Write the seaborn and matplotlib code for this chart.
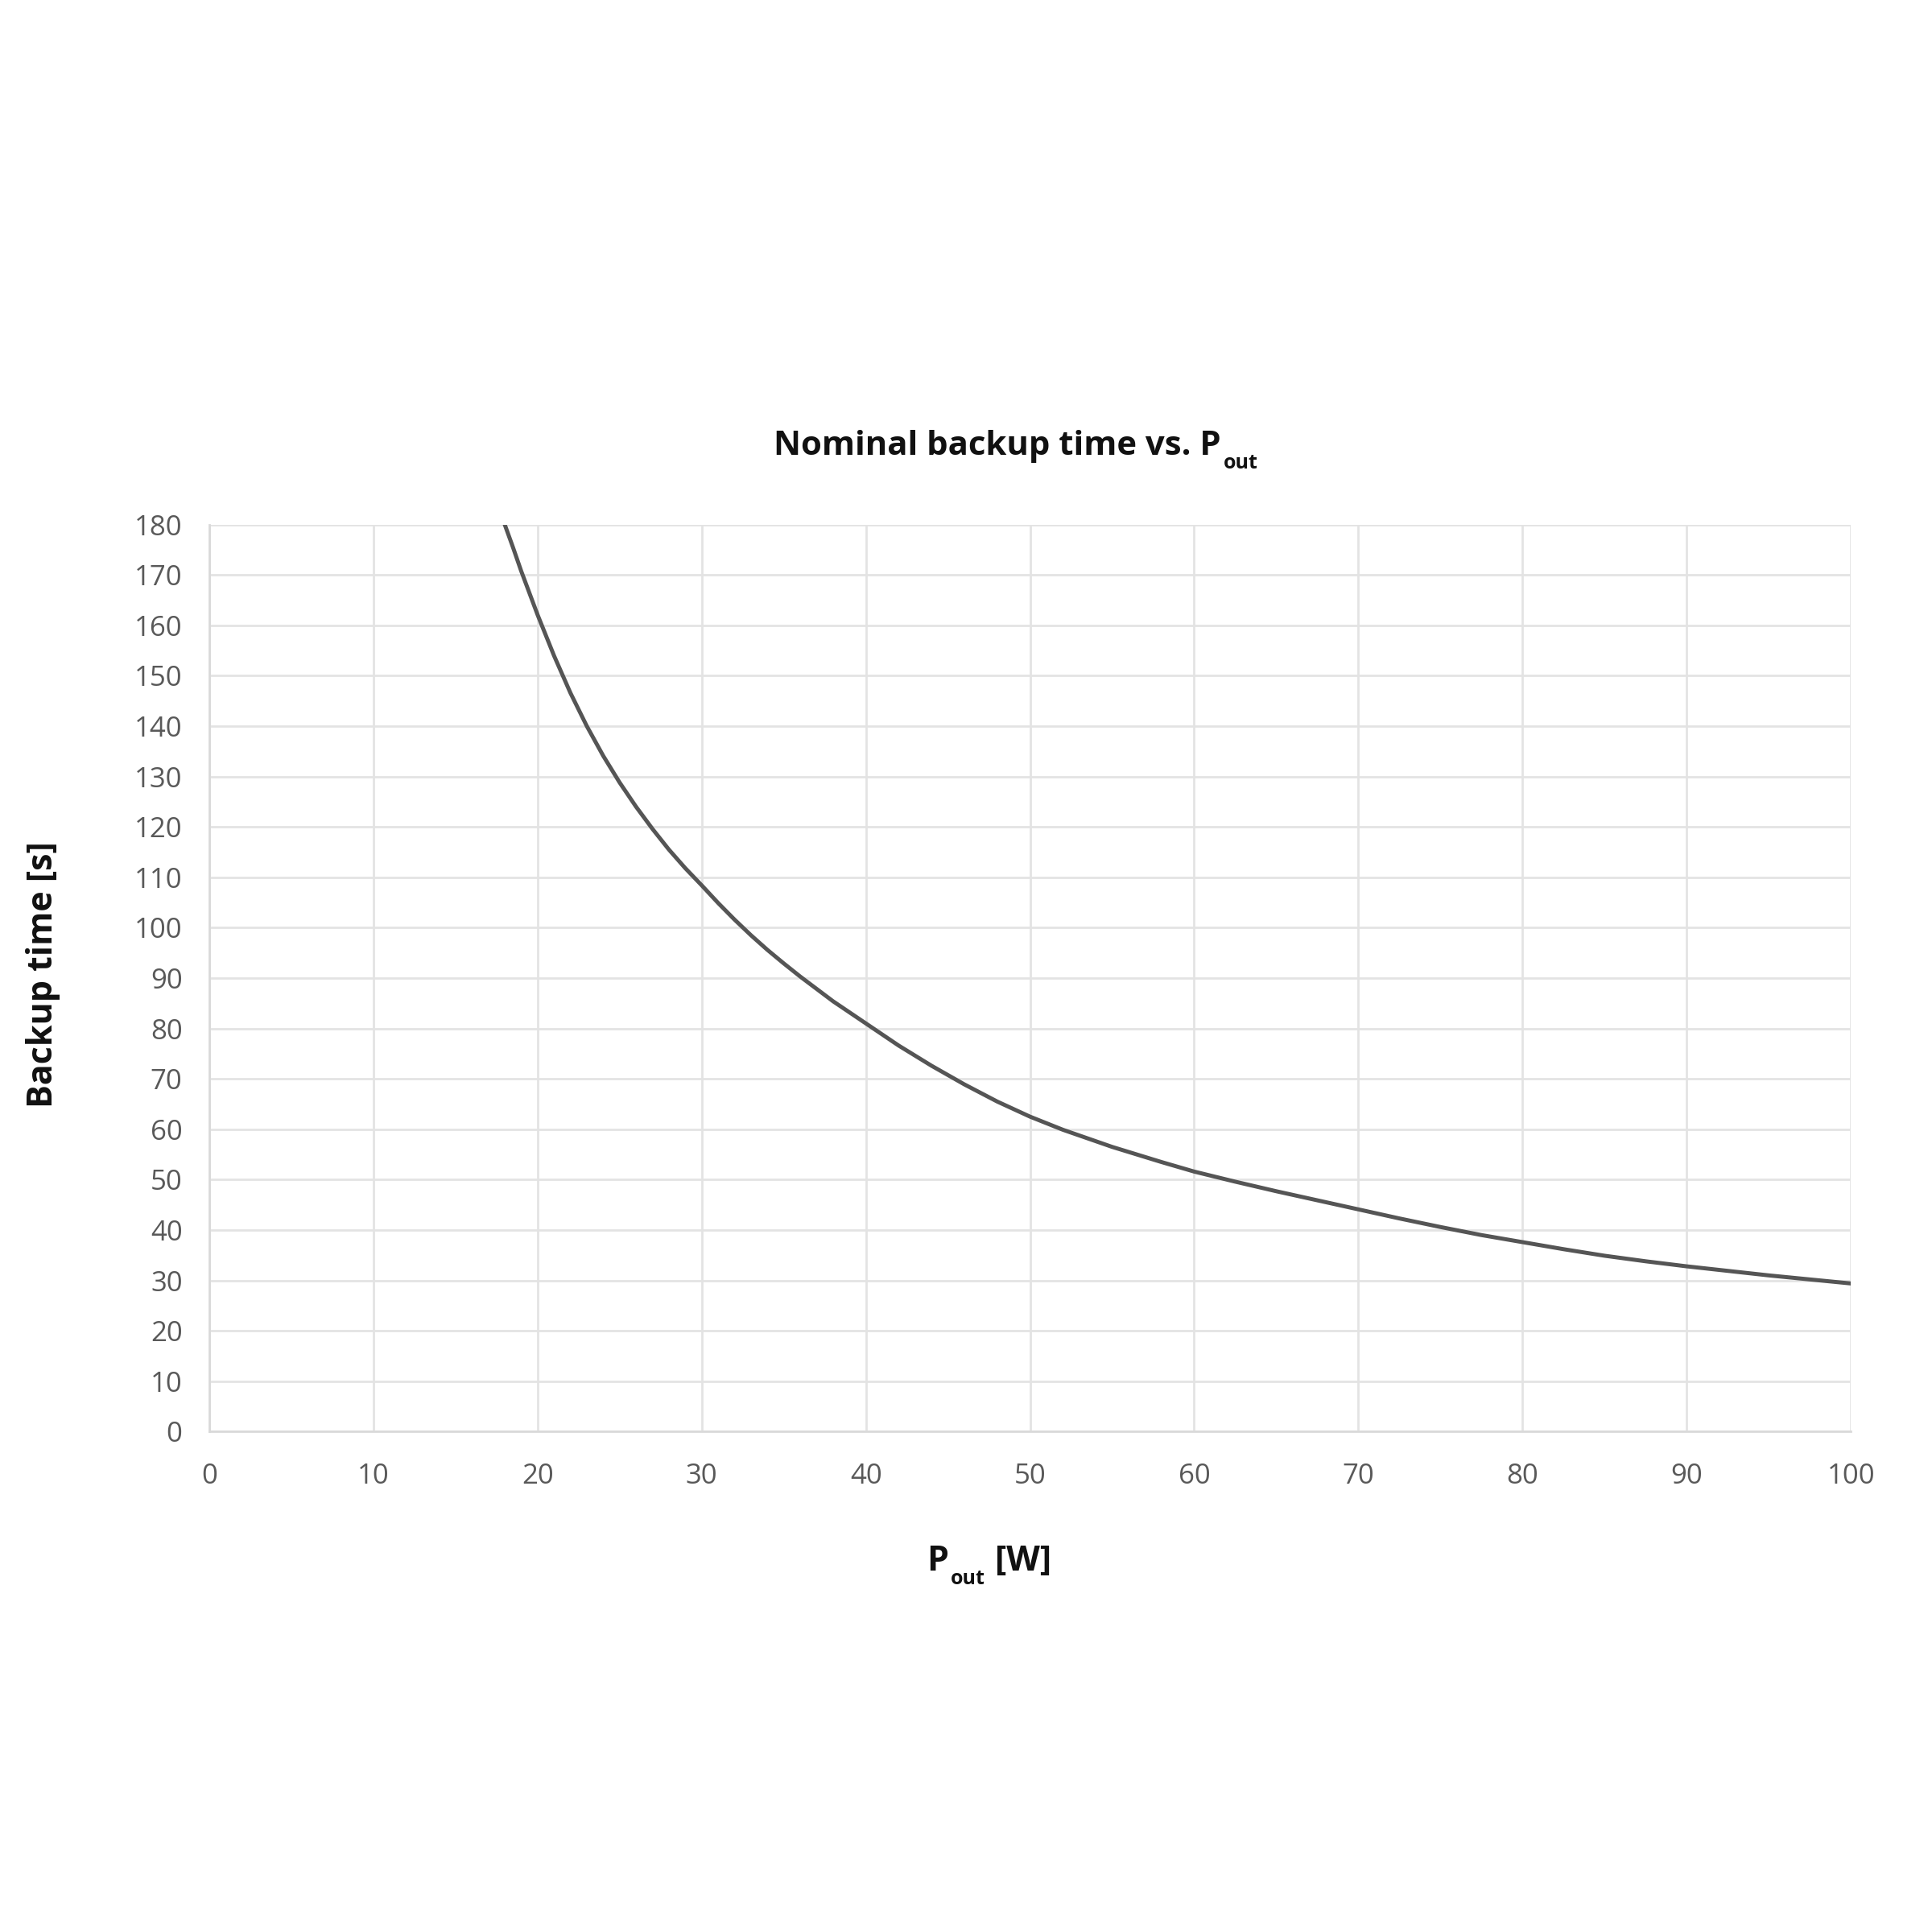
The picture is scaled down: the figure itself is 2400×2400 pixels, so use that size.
import matplotlib
matplotlib.use("Agg")
import matplotlib.pyplot as plt
import seaborn as sns
import pandas as pd

# Data (P_out in W, backup time in s)
p_out = [18, 18.5, 19, 20, 21, 22, 23, 24, 25, 26, 27, 28, 29, 30, 31, 32, 33, 34, 35, 36,
         38, 40, 42, 44, 46, 48, 50, 52, 55, 58, 60, 62.5, 65, 67.5, 70, 72.5, 75, 77.5,
         80, 82.5, 85, 87.5, 90, 92.5, 95, 97.5, 100]
backup_time = [180, 175.5, 170.8, 162.1, 154.0, 146.6, 140.0, 134.1, 128.8, 124.0, 119.6, 115.5,
               111.8, 108.4, 104.9, 101.6, 98.5, 95.6, 92.9, 90.3,
               85.4, 81.0, 76.6, 72.6, 68.9, 65.5, 62.5, 59.9, 56.5, 53.5, 51.6, 49.6, 47.7,
               45.9, 44.1, 42.3, 40.6, 39.0, 37.6, 36.2, 34.9, 33.8, 32.8, 31.9, 31.0, 30.2, 29.4]
x_ticks = [0, 10, 20, 30, 40, 50, 60, 70, 80, 90, 100]
y_ticks = list(range(0, 181, 10))

sns.set_theme(style="white")
plt.rcParams['font.family'] = ['Open Sans', 'DejaVu Sans']

df = pd.DataFrame({"P_out": p_out, "Backup": backup_time})

fig = plt.figure(figsize=(12, 12), dpi=200)
ax = fig.add_axes([0.1083, 0.259, 0.8497, 0.4695])

sns.lineplot(data=df, x="P_out", y="Backup", ax=ax, color="#555555", linewidth=1.8)

ax.set_xlim(0, 100)
ax.set_ylim(0, 180)
ax.set_xticks(x_ticks)
ax.set_yticks(y_ticks)
ax.grid(True, color="#e3e3e3", linewidth=1.0)
for s in ["top", "right"]:
    ax.spines[s].set_visible(False)
for s in ["left", "bottom"]:
    ax.spines[s].set_color("#d9d9d9")
    ax.spines[s].set_linewidth(1.0)
ax.tick_params(axis="both", length=0, labelsize=12.5, colors="#595959")
ax.tick_params(axis="x", pad=14)
ax.tick_params(axis="y", pad=12)
ax.set_xlabel("")
ax.set_ylabel("")

txt_kw = dict(fontweight="bold", color="#111111")

# Title with subscript
t_main = fig.text(0.4005, 0.769, "Nominal backup time vs. P", ha="left", va="center",
                  fontsize=15.1, **txt_kw)
ax.annotate("out", xy=(1, 0), xycoords=t_main, xytext=(1, -2.5), textcoords="offset points",
            ha="left", va="baseline", fontsize=9, annotation_clip=False, **txt_kw)

# X label with subscript
p_lab = fig.text(0.4796, 0.192, "P", ha="left", va="center", fontsize=15.5, **txt_kw)
ax.annotate("out", xy=(1, 0), xycoords=p_lab, xytext=(1, -2.5), textcoords="offset points",
            ha="left", va="baseline", fontsize=9, annotation_clip=False, **txt_kw)
ax.annotate("[W]", xy=(1, 0), xycoords=p_lab, xytext=(21, 0), textcoords="offset points",
            ha="left", va="bottom", fontsize=15.5, annotation_clip=False, **txt_kw)

# Y label
fig.text(0.0223, 0.4955, "Backup time [s]", ha="center", va="center", rotation=90,
         fontsize=15.5, **txt_kw)

fig.savefig("out.png", dpi=200, facecolor="white")
